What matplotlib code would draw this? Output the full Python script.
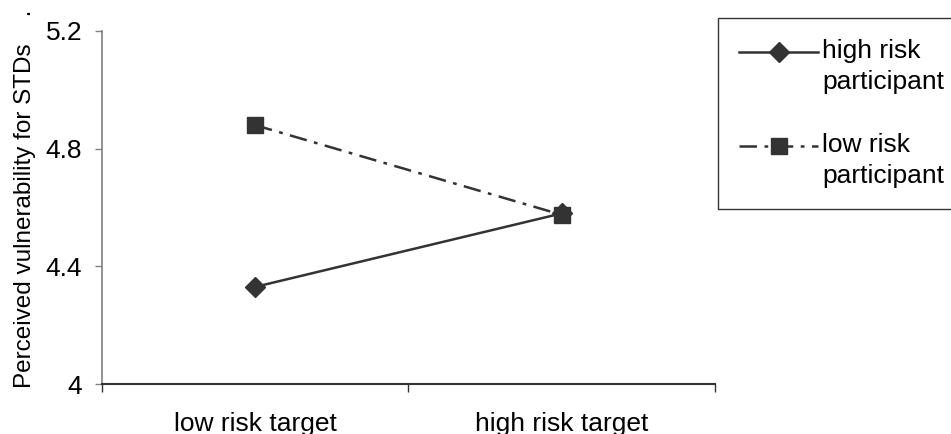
import matplotlib.pyplot as plt
import numpy as np
from matplotlib.legend_handler import HandlerLine2D

plt.rcParams['font.family'] = ['Liberation Sans', 'DejaVu Sans']

# Mean ratings by target type
targets = ['low risk target', 'high risk target']
high_risk_participant = [4.33, 4.58]
low_risk_participant = [4.88, 4.575]
series_labels = ['high risk\nparticipant', 'low risk\nparticipant']
yticks = [4.0, 4.4, 4.8, 5.2]
ytick_labels = ['4', '4.4', '4.8', '5.2']


class FirstLineHandler(HandlerLine2D):
    """Legend handle drawn level with the first line of a two-line label."""
    def __init__(self, lift, **kw):
        super().__init__(**kw)
        self.lift = lift

    def create_artists(self, legend, orig_handle, xdescent, ydescent,
                       width, height, fontsize, trans):
        return super().create_artists(legend, orig_handle, xdescent,
                                      ydescent - 2 * self.lift, width, height,
                                      fontsize, trans)


fig = plt.figure(figsize=(9.51, 4.34), dpi=100)
ax = fig.add_axes([0.107, 0.1152, 0.645, 0.8134])

x = np.arange(len(targets))
ink = '#333333'

l1, = ax.plot(x, high_risk_participant, color=ink, lw=1.8, marker='D', markersize=10,
              label=series_labels[0])
l2, = ax.plot(x, low_risk_participant, color=ink, lw=1.8, marker='s', markersize=11,
              linestyle=(0, (7, 3, 1.5, 3)), label=series_labels[1])

ax.set_xlim(-0.5, len(targets) - 0.5)
ax.set_ylim(4.0, 5.2)

# category boundaries get tick marks, the centres get the labels
ax.set_xticks(np.arange(len(targets) + 1) - 0.5)
ax.set_xticklabels([])
ax.set_xticks(x, minor=True)
ax.set_xticklabels(targets, minor=True, fontsize=19)
ax.tick_params(axis='x', which='major', direction='out', length=6, width=1, color='#333333')
ax.tick_params(axis='x', which='minor', length=0, pad=20)

ax.set_yticks(yticks)
ax.set_yticklabels(ytick_labels, fontsize=19)
ax.tick_params(axis='y', direction='out', length=5, width=1, color='#808080', pad=9)

for side in ['top', 'right']:
    ax.spines[side].set_visible(False)
ax.spines['left'].set_color('#808080')
ax.spines['bottom'].set_color('#333333')
ax.spines['left'].set_linewidth(1.2)
ax.spines['bottom'].set_linewidth(1.5)

ax.set_ylabel('Perceived vulnerability for STDs    .', fontsize=17.5, labelpad=7)
ax.yaxis.label.set_y(0.525)

lift = 10.5
leg = ax.legend(handles=[l1, l2], loc='upper left',
                bbox_to_anchor=(718 / 951, 1 - 18 / 434),
                bbox_transform=fig.transFigure, fontsize=19, frameon=True,
                fancybox=False, edgecolor='black', handlelength=3.0,
                handletextpad=0.15, labelspacing=1.5, borderpad=0.8,
                borderaxespad=0,
                handler_map={l1: FirstLineHandler(lift), l2: FirstLineHandler(lift)})
leg.get_frame().set_linewidth(1.0)
for t in leg.get_texts():
    t.set_linespacing(1.35)

fig.savefig('out.png', dpi=100)
